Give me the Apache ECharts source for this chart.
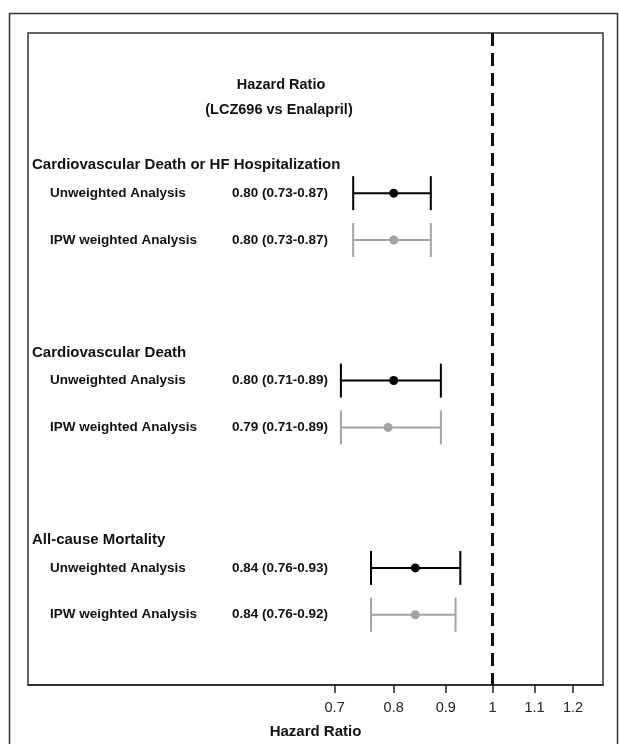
<!DOCTYPE html>
<html>
<head>
<meta charset="utf-8">
<script src="https://cdn.jsdelivr.net/npm/echarts@6/dist/echarts.min.js"></script>
<style>
html,body{margin:0;padding:0;background:#fff;}
#chart{width:619px;height:744px;}
</style>
</head>
<body>
<div id="chart"></div>
<script>
// ---- data ----
const outcomes = ['Cardiovascular Death or HF Hospitalization', 'Cardiovascular Death', 'All-cause Mortality'];
const analyses = ['Unweighted Analysis', 'IPW weighted Analysis'];
const unweightedHR = [0.80, 0.80, 0.84];
const unweightedLo = [0.73, 0.71, 0.76];
const unweightedHi = [0.87, 0.89, 0.93];
const ipwHR = [0.80, 0.79, 0.84];
const ipwLo = [0.73, 0.71, 0.76];
const ipwHi = [0.87, 0.89, 0.92];
const xTicks = [0.7, 0.8, 0.9, 1, 1.1, 1.2];
const referenceHR = 1;
const headerLines = ['Hazard Ratio', '(LCZ696 vs Enalapril)'];
const axisTitle = 'Hazard Ratio';

// ---- layout (row positions on hidden y axis) ----
const groupStep = 20, headOff = 0, unwOff = 3, ipwOff = 8, firstGroup = 14;
const FONT = 'Arial, "Liberation Sans", sans-serif';
const fmt = v => v.toFixed(2);

const barData = [], textData = [];
outcomes.forEach((name, g) => {
  const base = firstGroup + g * groupStep;
  textData.push([base + headOff, 'head', name]);
  textData.push([base + unwOff, 'sub', analyses[0], fmt(unweightedHR[g]) + ' (' + fmt(unweightedLo[g]) + '-' + fmt(unweightedHi[g]) + ')']);
  textData.push([base + ipwOff, 'sub', analyses[1], fmt(ipwHR[g]) + ' (' + fmt(ipwLo[g]) + '-' + fmt(ipwHi[g]) + ')']);
  barData.push({value: [unweightedLo[g], unweightedHR[g], unweightedHi[g], base + unwOff], color: '#000000'});
  barData.push({value: [ipwLo[g], ipwHR[g], ipwHi[g], base + ipwOff], color: '#a3a3a3'});
});

const chart = echarts.init(document.getElementById('chart'), null, {renderer: 'canvas'});
const option = {
  animation: false,
  backgroundColor: '#fff',
  grid: {left: 28, right: 16, top: 33, bottom: 57, show: true, borderColor: '#333', borderWidth: 1.5, backgroundColor: 'transparent'},
  xAxis: {
    type: 'log', logBase: Math.E, min: 0.35, max: 1.284,
    axisLine: {show: true, onZero: false, lineStyle: {color: '#222', width: 1.5}},
    axisTick: {show: true, length: 8, customValues: xTicks, lineStyle: {color: '#222', width: 1.5}},
    axisLabel: {show: true, customValues: xTicks, margin: 15, color: '#222', fontSize: 14.5, fontFamily: FONT,
      formatter: v => String(+Number(v).toFixed(2))},
    splitLine: {show: false},
    name: axisTitle, nameLocation: 'middle', nameGap: 39,
    nameTextStyle: {fontWeight: 'bold', fontSize: 15, color: '#111', fontFamily: FONT}
  },
  yAxis: {type: 'value', inverse: true, min: -0.1, max: 69.5, show: false},
  graphic: [
    {type: 'rect', silent: true, shape: {x: 9.5, y: 13.5, width: 608, height: 745}, style: {fill: 'none', stroke: '#333', lineWidth: 1.5}, z: 100},
    {type: 'text', x: 281, y: 85, style: {text: headerLines[0], fill: '#111', font: 'bold 14.5px ' + FONT, align: 'center', verticalAlign: 'middle'}},
    {type: 'text', x: 279, y: 110, style: {text: headerLines[1], fill: '#111', font: 'bold 14.5px ' + FONT, align: 'center', verticalAlign: 'middle'}}
  ],
  series: [
    {
      type: 'custom', name: 'labels', coordinateSystem: 'cartesian2d',
      data: textData.map(d => [referenceHR, d[0]]),
      encode: {x: 0, y: 1},
      renderItem: (params, api) => {
        const item = textData[params.dataIndex];
        const p = api.coord([referenceHR, item[0]]);
        const left = params.coordSys.x;
        if (item[1] === 'head') {
          return {type: 'text', style: {x: left + 4, y: p[1], text: item[2], fill: '#111', font: 'bold 15px ' + FONT, align: 'left', verticalAlign: 'middle'}};
        }
        return {type: 'group', children: [
          {type: 'text', style: {x: left + 22, y: p[1], text: item[2], fill: '#111', font: 'bold 13.5px ' + FONT, align: 'left', verticalAlign: 'middle'}},
          {type: 'text', style: {x: left + 204, y: p[1], text: item[3], fill: '#111', font: 'bold 13.5px ' + FONT, align: 'left', verticalAlign: 'middle'}}
        ]};
      },
      markLine: {
        silent: true, symbol: 'none', label: {show: false},
        lineStyle: {color: '#111', type: [13, 7], width: 3},
        data: [{xAxis: referenceHR}]
      }
    },
    {
      type: 'custom', name: 'ci', coordinateSystem: 'cartesian2d',
      data: barData,
      encode: {x: [0, 1, 2], y: 3},
      renderItem: (params, api) => {
        const y = api.value(3);
        const pL = api.coord([api.value(0), y]);
        const pM = api.coord([api.value(1), y]);
        const pH = api.coord([api.value(2), y]);
        const color = barData[params.dataIndex].color;
        const cap = 17;
        const st = {stroke: color, lineWidth: 2};
        return {type: 'group', children: [
          {type: 'line', shape: {x1: pL[0], y1: pL[1], x2: pH[0], y2: pH[1]}, style: st},
          {type: 'line', shape: {x1: pL[0], y1: pL[1] - cap, x2: pL[0], y2: pL[1] + cap}, style: st},
          {type: 'line', shape: {x1: pH[0], y1: pH[1] - cap, x2: pH[0], y2: pH[1] + cap}, style: st},
          {type: 'circle', shape: {cx: pM[0], cy: pM[1], r: 4.5}, style: {fill: color}}
        ]};
      }
    }
  ]
};
chart.setOption(option);
</script>
</body>
</html>
